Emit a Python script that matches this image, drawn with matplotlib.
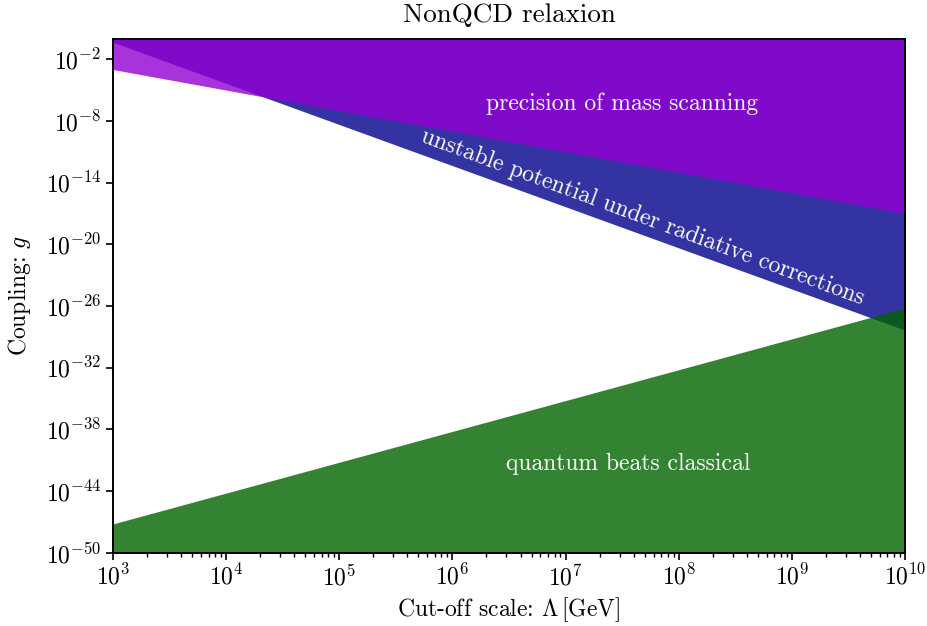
import numpy as np
import matplotlib
matplotlib.use("Agg")
import matplotlib.pyplot as plt
from matplotlib.ticker import LogLocator, NullLocator, NullFormatter

plt.rcParams['mathtext.fontset'] = 'cm'
plt.rcParams['font.family'] = 'serif'
plt.rcParams['font.serif'] = ['cmr10', 'DejaVu Serif']
plt.rcParams['axes.formatter.use_mathtext'] = True
plt.rcParams['axes.unicode_minus'] = True

# Cut-off scale (GeV) endpoints and boundary couplings (log10 g)
cutoff = [1e3, 1e10]
log_g_mass_scanning = [-3.0, -17.0]     # precision of mass scanning (above)
log_g_unstable = [-0.35, -28.35]        # unstable potential (above)
log_g_quantum = [-47.2, -26.2]          # quantum beats classical (below)
y_range = [1e-50, 1e0]
y_ticks = [1e-2, 1e-8, 1e-14, 1e-20, 1e-26, 1e-32, 1e-38, 1e-44, 1e-50]

lam = np.array(cutoff)

fig = plt.figure(figsize=(9.28, 6.26), dpi=100)
ax = fig.add_axes([0.1218, 0.1171, 0.8534, 0.8211])
ax.set_xscale('log')
ax.set_yscale('log')

g_top = np.full(2, y_range[1])
g_bot = np.full(2, y_range[0])

ax.fill_between(lam, 10**np.array(log_g_unstable), g_top, color='darkblue', alpha=0.8, lw=0)
ax.fill_between(lam, 10**np.array(log_g_mass_scanning), g_top, color='darkviolet', alpha=0.8, lw=0)
ax.fill_between(lam, g_bot, 10**np.array(log_g_quantum), color='darkgreen', alpha=0.8, lw=0)

ax.set_xlim(cutoff)
ax.set_ylim(y_range)
ax.set_yticks(y_ticks)
ax.yaxis.set_minor_locator(NullLocator())
ax.xaxis.set_major_locator(LogLocator(base=10, numticks=20))
ax.xaxis.set_minor_locator(LogLocator(base=10, subs=np.arange(2, 10), numticks=100))
ax.xaxis.set_minor_formatter(NullFormatter())

ax.tick_params(which='major', length=5, width=1.2, labelsize=17, direction='out')
ax.tick_params(which='minor', length=3, width=1.0)
for s in ax.spines.values():
    s.set_linewidth(1.4)

ax.set_title('NonQCD relaxion', fontsize=19.5, pad=12)
ax.set_xlabel(r'Cut-off scale: $\Lambda\,[\mathrm{GeV}]$', fontsize=17, labelpad=4)
ax.set_ylabel(r'Coupling: $g$', fontsize=17, labelpad=9)

ax.text(10**7.5, 10**-6.3, 'precision of mass scanning', color='white', fontsize=17,
        ha='center', va='center', zorder=5)
ax.text(10**7.68, 10**-17.4, 'unstable potential under radiative corrections', color='white',
        fontsize=17, ha='center', va='center', rotation=-20.3, zorder=5)
ax.text(10**7.55, 10**-41.4, 'quantum beats classical', color='white', fontsize=17,
        ha='center', va='center', zorder=5)

fig.savefig('out.png', dpi=100)
